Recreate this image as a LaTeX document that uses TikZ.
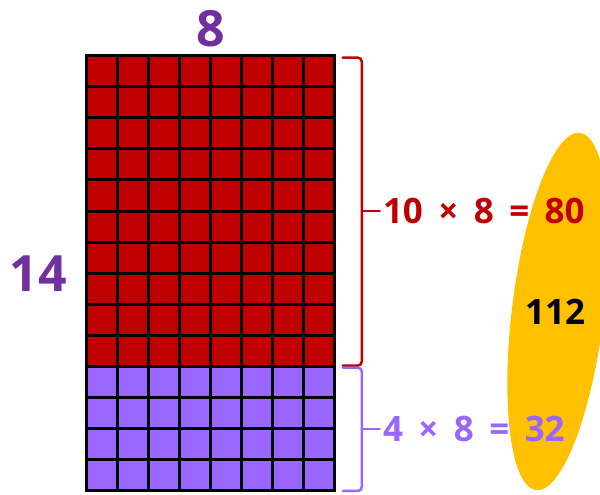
\documentclass[tikz,border=0pt]{standalone}
\usepackage{fontspec}
\setmainfont{Open Sans}
\newfontfamily\numfont[WordSpace=1.7]{Open Sans}
\usetikzlibrary{positioning,fit,shapes.geometric}
\definecolor{brickred}{RGB}{192,0,0}
\definecolor{lilac}{RGB}{153,102,255}
\definecolor{plum}{RGB}{112,48,160}
\definecolor{gold}{RGB}{255,192,0}

\begin{document}
\begin{tikzpicture}[x=1pt,y=1pt,
  block/.style={draw=black,line width=3pt,minimum width=248.8pt,inner sep=0pt,outer sep=0pt,anchor=south west},
  side/.style={inner sep=0pt,text=plum,font=\numfont\bfseries\fontsize{50}{60}\selectfont},
  eqn/.style={inner sep=0pt,font=\numfont\bfseries\fontsize{35}{42}\selectfont},
  bracket/.style={line width=2.5pt,rounded corners=4pt,line cap=round},node distance=8pt]
\useasboundingbox (0,0) rectangle (600,495);
\clip (0,0) rectangle (600,495);
\node[ellipse,fill=gold,minimum width=92pt,minimum height=360pt,inner sep=0pt,rotate=-7] (sum) at (558,183.5) {};
\node[block,fill=lilac,minimum height=124.4pt] (low) at (86,4) {};
\node[block,fill=brickred,minimum height=311pt] (high) at (low.north west) {};
\draw[line width=3pt,shift={(low.south west)}] (0,0) grid[step=31.1pt] (248.9,435.5);
\node[fit=(high)(low),inner sep=0pt] (rect) {};
\node[side,above=8pt of rect] (cols) {8};
\node[side,left=19pt of rect] (rows) {14};
% braces
\draw[bracket,draw=brickred] ([xshift=8pt,yshift=-2pt]high.north east) -| ([xshift=27pt]high.east) |- ([xshift=8pt,yshift=1pt]high.south east);
\draw[bracket,draw=brickred] ([xshift=27pt]high.east) -- ++(18pt,0) coordinate (hightip);
\draw[bracket,draw=lilac] ([xshift=8pt,yshift=-1pt]low.north east) -| ([xshift=27pt]low.east) |- ([xshift=8pt]low.south east);
\draw[bracket,draw=lilac] ([xshift=27pt]low.east) -- ++(18pt,0) coordinate (lowtip);
\node[eqn,text=brickred,right=3pt of hightip] (higheq) {10 × 8 = 80};
\node[eqn,text=lilac,right=3pt of lowtip] (loweq) {4 × 8 = 32};
\node[eqn,text=black,xshift=-3pt] (total) at (sum) {112};
\end{tikzpicture}
\end{document}
